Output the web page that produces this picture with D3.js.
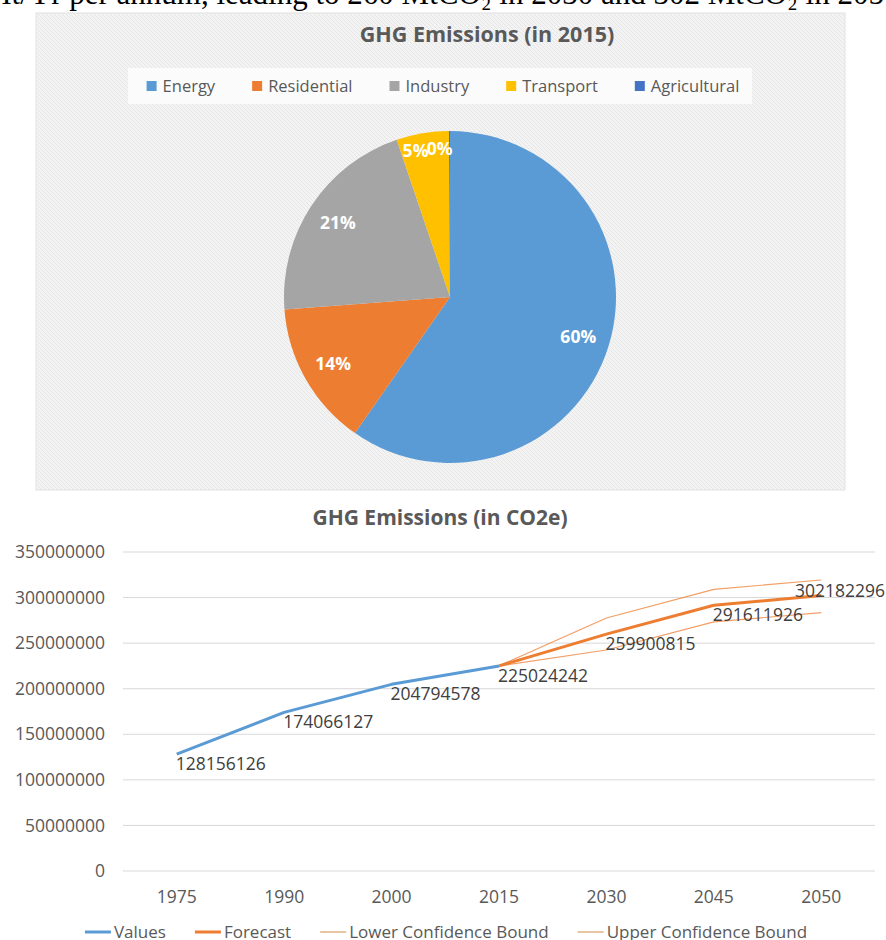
<!DOCTYPE html>
<html>
<head>
<meta charset="utf-8">
<script src="https://cdn.jsdelivr.net/npm/d3@7"></script>
<style>
  body { margin: 0; background: #fff; }
  svg { display: block; font-family: "Open Sans", sans-serif; }
</style>
</head>
<body>
<div id="chart"></div>
<script>
// pie data (2015 shares, %)
var sectors = ["Energy", "Residential", "Industry", "Transport", "Agricultural"];
var shares = [59.7, 14.1, 21.0, 5.1, 0.1];
var sectorColors = ["#5B9BD5", "#ED7D31", "#A5A5A5", "#FFC000", "#4472C4"];

// line data (CO2e)
var years = ["1975", "1990", "2000", "2015", "2030", "2045", "2050"];
var values = [128156126, 174066127, 204794578, 225024242, null, null, null];
var forecast = [null, null, null, 225024242, 259900815, 291611926, 302182296];
var lowerBound = [null, null, null, 225024242, 242500000, 273400000, 283400000];
var upperBound = [null, null, null, 225024242, 277600000, 309000000, 319300000];
var yTicks = [0, 50000000, 100000000, 150000000, 200000000, 250000000, 300000000, 350000000];

var svgWidth = 886;
var svgHeight = 940;

var svg = d3.select("#chart")
  .append("svg")
  .attr("width", svgWidth)
  .attr("height", svgHeight);

// clipped sentence from the page above the charts
svg.append("text")
  .attr("x", -16)
  .attr("y", 4)
  .style("font-family", "'Liberation Serif', serif")
  .style("font-size", "31px")
  .attr("fill", "#000")
  .text("Mt/Yr per annum, leading to 260 MtCO\u2082 in 2030 and 302 MtCO\u2082 in 2050");

// ---------------- Pie panel ----------------
var defs = svg.append("defs");
var pat = defs.append("pattern")
  .attr("id", "hatch")
  .attr("patternUnits", "userSpaceOnUse")
  .attr("width", 4)
  .attr("height", 4);
pat.append("rect").attr("width", 4).attr("height", 4).attr("fill", "#f3f3f3");
pat.append("path").attr("d", "M-1,-1 L5,5").attr("stroke", "#e6e6e6").attr("stroke-width", 1);

svg.append("rect")
  .attr("x", 36)
  .attr("y", 13)
  .attr("width", 809)
  .attr("height", 477)
  .attr("fill", "url(#hatch)")
  .attr("stroke", "#e2e2e2");

svg.append("text")
  .attr("x", 487)
  .attr("y", 42)
  .attr("text-anchor", "middle")
  .style("font-size", "21.5px")
  .style("font-weight", "bold")
  .attr("fill", "#595959")
  .text("GHG Emissions (in 2015)");

// legend
svg.append("rect")
  .attr("x", 128)
  .attr("y", 68)
  .attr("width", 624)
  .attr("height", 36)
  .attr("fill", "#ffffff")
  .attr("opacity", 0.75);

var pieLegend = svg.append("g");
var lx = 0;
sectors.forEach(function(name, i) {
  var item = pieLegend.append("g").attr("transform", `translate(${lx}, 0)`);
  item.append("rect")
    .attr("x", 0)
    .attr("y", -5)
    .attr("width", 10)
    .attr("height", 10)
    .attr("fill", sectorColors[i]);
  var t = item.append("text")
    .attr("x", 16)
    .attr("y", 6)
    .style("font-size", "16.5px")
    .attr("fill", "#595959")
    .text(name);
  lx += 16 + t.node().getComputedTextLength() + 37;
});
lx -= 37;
pieLegend.attr("transform", `translate(${443 - lx / 2}, 86)`);

// pie
var pieGroup = svg.append("g")
  .attr("transform", "translate(450, 297)");

var radius = 166;
var pie = d3.pie().sort(null).value(d => d);
var arcs = pie(shares);
var arc = d3.arc().innerRadius(0).outerRadius(radius);

pieGroup.selectAll("path")
  .data(arcs)
  .enter()
  .append("path")
  .attr("d", arc)
  .attr("fill", (d, i) => sectorColors[i]);

pieGroup.selectAll("text.pct")
  .data(arcs)
  .enter()
  .append("text")
  .attr("class", "pct")
  .attr("transform", function(d) {
    var small = d.value < 8;
    var r = small ? radius * 0.89 : radius * 0.81;
    var a = (d.startAngle + d.endAngle) / 2;
    var dx = small ? -10 : 0;
    return `translate(${Math.sin(a) * r + dx}, ${-Math.cos(a) * r})`;
  })
  .attr("dy", "0.35em")
  .attr("text-anchor", "middle")
  .style("font-size", "17.5px")
  .style("font-weight", "bold")
  .attr("fill", "#ffffff")
  .text(d => Math.round(d.value) + "%");

// ---------------- Line chart ----------------
svg.append("text")
  .attr("x", 440)
  .attr("y", 525)
  .attr("text-anchor", "middle")
  .style("font-size", "21px")
  .style("font-weight", "bold")
  .attr("fill", "#595959")
  .text("GHG Emissions (in CO2e)");

var xScale = d3.scaleBand()
  .domain(years)
  .range([123, 875]);

var yScale = d3.scaleLinear()
  .domain([0, 350000000])
  .range([871, 552]);

var cx = d => xScale(d) + xScale.bandwidth() / 2;

// gridlines
svg.append("g")
  .selectAll("line")
  .data(yTicks)
  .enter()
  .append("line")
  .attr("x1", 123)
  .attr("x2", 875)
  .attr("y1", d => yScale(d))
  .attr("y2", d => yScale(d))
  .attr("stroke", "#d9d9d9")
  .attr("stroke-width", 1);

// y labels
svg.append("g")
  .selectAll("text")
  .data(yTicks)
  .enter()
  .append("text")
  .attr("x", 105)
  .attr("y", d => yScale(d))
  .attr("dy", "0.35em")
  .attr("text-anchor", "end")
  .style("font-size", "17.5px")
  .attr("fill", "#595959")
  .text(d => d);

// x labels
svg.append("g")
  .selectAll("text")
  .data(years)
  .enter()
  .append("text")
  .attr("x", d => cx(d))
  .attr("y", 897)
  .attr("dy", "0.35em")
  .attr("text-anchor", "middle")
  .style("font-size", "17.5px")
  .attr("fill", "#595959")
  .text(d => d);

var line = d3.line()
  .defined(d => d.v != null)
  .x(d => cx(d.year))
  .y(d => yScale(d.v));

function series(arr) {
  return years.map((y, i) => ({ year: y, v: arr[i] }));
}

var seriesList = [
  { name: "Values", data: values, color: "#5B9BD5", width: 3, opacity: 1 },
  { name: "Forecast", data: forecast, color: "#ED7D31", width: 3, opacity: 1 },
  { name: "Lower Confidence Bound", data: lowerBound, color: "#ED7D31", width: 1.2, opacity: 0.75 },
  { name: "Upper Confidence Bound", data: upperBound, color: "#ED7D31", width: 1.2, opacity: 0.75 }
];

seriesList.slice().reverse().forEach(function(s) {
  svg.append("path")
    .datum(series(s.data))
    .attr("fill", "none")
    .attr("stroke", s.color)
    .attr("stroke-width", s.width)
    .attr("stroke-opacity", s.opacity)
    .attr("stroke-linejoin", "round")
    .attr("d", line);
});

// data labels on values + forecast
var labelPoints = series(values).filter(d => d.v != null)
  .concat(series(forecast).filter((d, i) => d.v != null && d.year !== "2015"));

var labels = svg.append("g")
  .selectAll("text")
  .data(labelPoints)
  .enter()
  .append("text")
  .style("font-size", "17.5px")
  .attr("fill", "#404040")
  .text(d => d.v);

labels.each(function(d) {
  var t = d3.select(this);
  var w = this.getComputedTextLength();
  var x = cx(d.year) - 1;
  var y = yScale(d.v) + 16;
  if (x + w > svgWidth - 1) {
    x = svgWidth - 1 - w;
    y = yScale(d.v) + 1;
  }
  t.attr("x", x).attr("y", y);
});

// line legend
var lineLegend = svg.append("g");
var gx = 0;
seriesList.forEach(function(s) {
  var item = lineLegend.append("g").attr("transform", `translate(${gx}, 0)`);
  item.append("line")
    .attr("x1", 0)
    .attr("x2", 26)
    .attr("y1", 0)
    .attr("y2", 0)
    .attr("stroke", s.width > 2 ? s.color : "#e8c4a0")
    .attr("stroke-width", s.width > 2 ? 3 : 2);
  var t = item.append("text")
    .attr("x", 29)
    .attr("y", 0)
    .attr("dy", "0.35em")
    .style("font-size", "17px")
    .attr("fill", "#595959")
    .text(s.name);
  gx += 29 + t.node().getComputedTextLength() + 29;
});
gx -= 29;
lineLegend.attr("transform", `translate(${446 - gx / 2}, 932)`);
</script>
</body>
</html>
